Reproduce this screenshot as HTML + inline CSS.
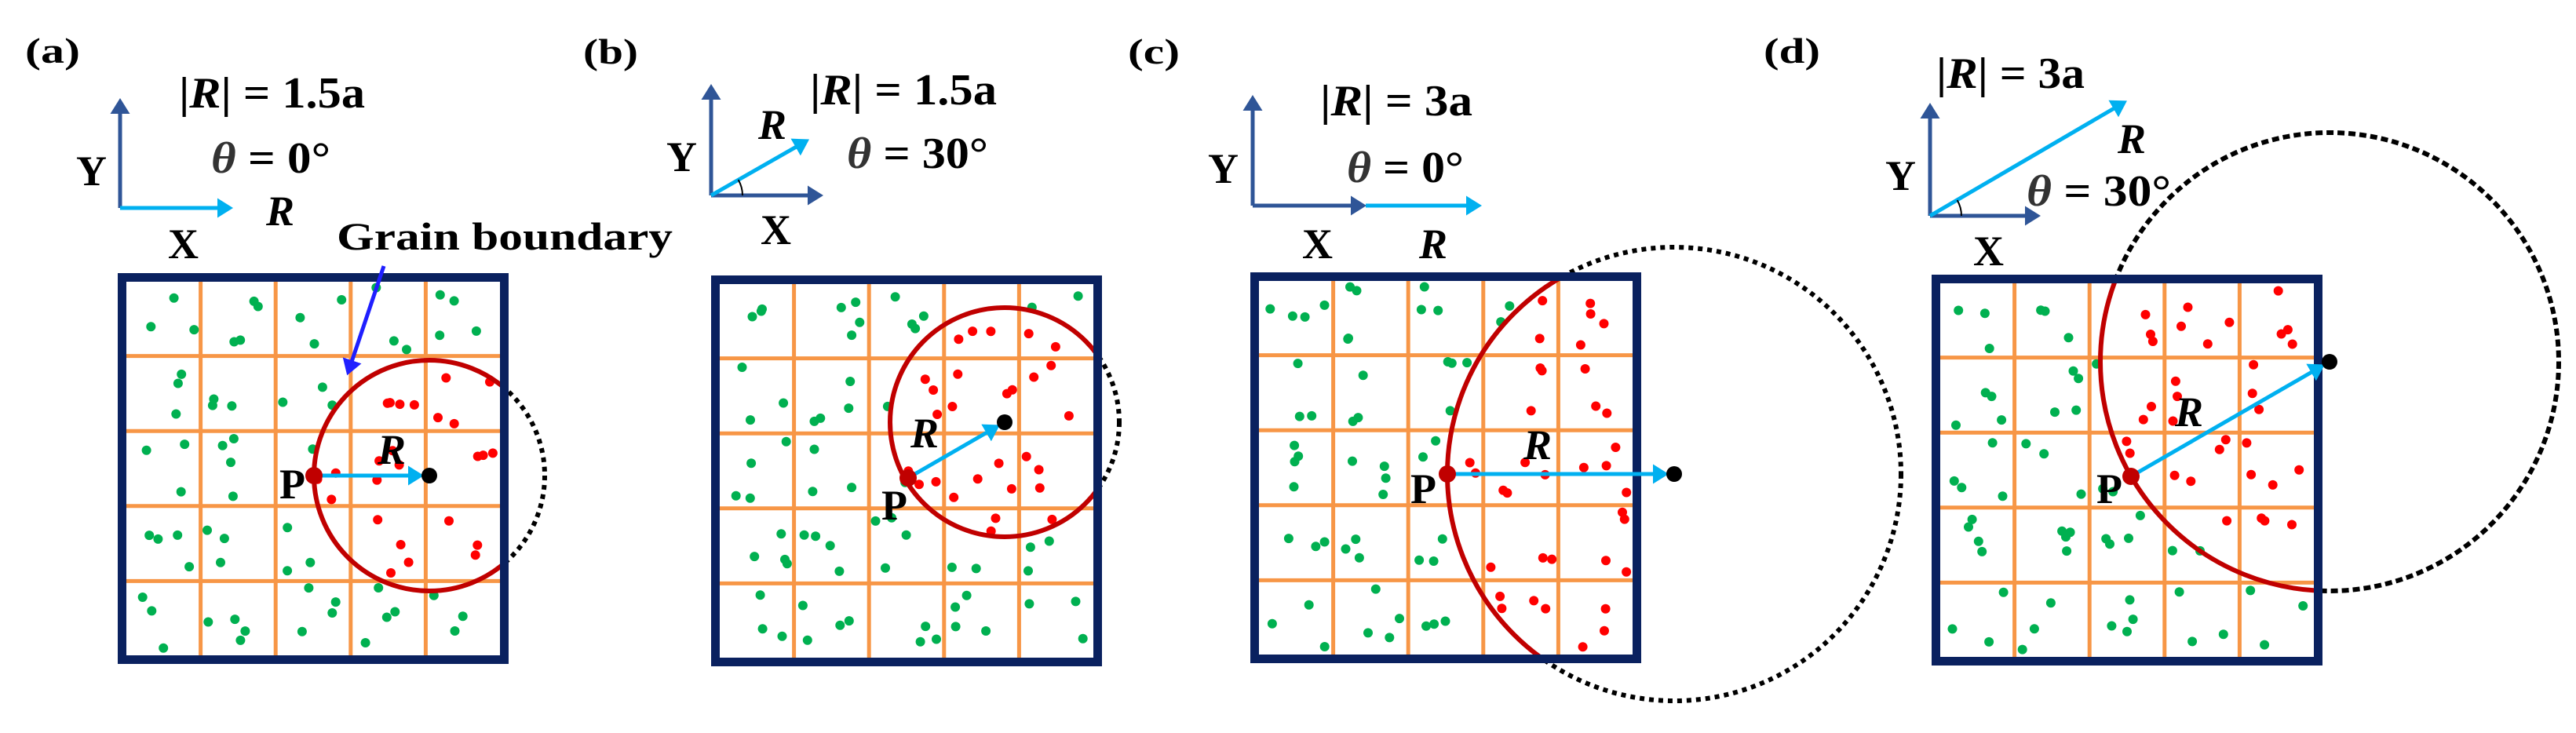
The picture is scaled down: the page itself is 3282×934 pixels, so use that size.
<!DOCTYPE html>
<html><head><meta charset="utf-8"><style>
html,body{margin:0;padding:0;background:#fff;}
svg{display:block;}
text{font-family:"Liberation Serif","Times New Roman",serif;font-weight:bold;fill:#000;}
.it{font-style:italic;}
</style></head><body>
<div style="position:relative;width:3282px;height:934px">
<svg id="s" width="3282" height="934" viewBox="0 0 3282 934" xmlns="http://www.w3.org/2000/svg" style="position:absolute;left:0;top:0">
<defs>
<marker id="mD" markerWidth="5" markerHeight="5" refX="1" refY="2.5" orient="auto" markerUnits="strokeWidth"><path d="M0,0 L4,2.5 L0,5 z" fill="#2f5597"/></marker>
<marker id="mC" markerWidth="5" markerHeight="5" refX="1" refY="2.5" orient="auto" markerUnits="strokeWidth"><path d="M0,0 L4,2.5 L0,5 z" fill="#00b0f0"/></marker>
<marker id="mB" markerWidth="5" markerHeight="5" refX="1" refY="2.5" orient="auto" markerUnits="strokeWidth"><path d="M0,0 L4,2.5 L0,5 z" fill="#1f1fff"/></marker>
</defs>
<g id="panels"></g>

<g stroke-width="5" fill="none">
<line x1="153" y1="265" x2="153" y2="140" stroke="#2f5597" marker-end="url(#mD)"/>
<line x1="153" y1="265" x2="282" y2="265" stroke="#00b0f0" marker-end="url(#mC)"/>

<line x1="906" y1="249" x2="906" y2="122" stroke="#2f5597" marker-end="url(#mD)"/>
<line x1="906" y1="249" x2="1034" y2="249" stroke="#2f5597" marker-end="url(#mD)"/>
<line x1="906" y1="249" x2="1018" y2="185" stroke="#00b0f0" marker-end="url(#mC)"/>
<path d="M946,249 A40,40 0 0 0 940.6,229" stroke="#000" stroke-width="2"/>

<line x1="1596" y1="262" x2="1596" y2="136" stroke="#2f5597" marker-end="url(#mD)"/>
<line x1="1596" y1="262" x2="1726" y2="262" stroke="#2f5597" marker-end="url(#mD)"/>
<line x1="1740" y1="262" x2="1873" y2="262" stroke="#00b0f0" marker-end="url(#mC)"/>

<line x1="2459" y1="275" x2="2459" y2="146" stroke="#2f5597" marker-end="url(#mD)"/>
<line x1="2459" y1="275" x2="2585" y2="275" stroke="#2f5597" marker-end="url(#mD)"/>
<line x1="2459" y1="275" x2="2697" y2="136" stroke="#00b0f0" marker-end="url(#mC)"/>
<path d="M2499,275 A40,40 0 0 0 2493.6,255" stroke="#000" stroke-width="2"/>

<line x1="489" y1="339" x2="447" y2="464" stroke="#1f1fff" stroke-width="5" marker-end="url(#mB)"/>
</g>

<text x="32" y="80" font-size="46" textLength="70" lengthAdjust="spacingAndGlyphs">(a)</text>
<text x="743" y="81" font-size="46" textLength="70" lengthAdjust="spacingAndGlyphs">(b)</text>
<text x="1437" y="81" font-size="46" textLength="66" lengthAdjust="spacingAndGlyphs">(c)</text>
<text x="2247" y="80" font-size="46" textLength="72" lengthAdjust="spacingAndGlyphs">(d)</text>

<text x="228" y="137" font-size="56" textLength="237" lengthAdjust="spacingAndGlyphs">|<tspan class="it">R</tspan>| = 1.5a</text>
<text x="269" y="220" font-size="56" textLength="152" lengthAdjust="spacingAndGlyphs"><tspan class="it" fill="#333">θ</tspan> = 0°</text>
<text x="1032" y="133" font-size="56" textLength="238" lengthAdjust="spacingAndGlyphs">|<tspan class="it">R</tspan>| = 1.5a</text>
<text x="1079" y="214" font-size="56" textLength="180" lengthAdjust="spacingAndGlyphs"><tspan class="it" fill="#333">θ</tspan> = 30°</text>
<text x="1682" y="147" font-size="56" textLength="194" lengthAdjust="spacingAndGlyphs">|<tspan class="it">R</tspan>| = 3a</text>
<text x="1716" y="232" font-size="56" textLength="149" lengthAdjust="spacingAndGlyphs"><tspan class="it" fill="#333">θ</tspan> = 0°</text>
<text x="2467" y="112" font-size="56" textLength="189" lengthAdjust="spacingAndGlyphs">|<tspan class="it">R</tspan>| = 3a</text>
<text x="2582" y="262" font-size="56" textLength="184" lengthAdjust="spacingAndGlyphs"><tspan class="it" fill="#333">θ</tspan> = 30°</text>

<g font-size="54">
<text x="97" y="236">Y</text><text x="849" y="218">Y</text><text x="1539" y="233">Y</text><text x="2402" y="242">Y</text>
<text x="214" y="329">X</text><text x="969" y="311">X</text><text x="1659" y="329">X</text><text x="2514" y="338">X</text>
<text class="it" x="339" y="287">R</text><text class="it" x="966" y="177">R</text><text class="it" x="1808" y="329">R</text><text class="it" x="2698" y="195">R</text>
</g>
<text x="429" y="318" font-size="50" textLength="428" lengthAdjust="spacingAndGlyphs">Grain boundary</text>
<g id="top"></g>
<g font-size="54">
<text class="it" x="481" y="591">R</text>
<text class="it" x="1160" y="570">R</text>
<text class="it" x="1941" y="585">R</text>
<text class="it" x="2771" y="543">R</text>
<text x="356" y="635">P</text>
<text x="1123" y="662">P</text>
<text x="1797" y="641">P</text>
<text x="2671" y="641">P</text>
</g>
</svg>
</div>
<script>
(function(){
var NS="http://www.w3.org/2000/svg";
var svg=document.getElementById('s');
var g=document.getElementById('panels');
var top=document.getElementById('top');
var defs=svg.querySelector('defs');
function el(n,a,p){var e=document.createElementNS(NS,n);for(var k in a)e.setAttribute(k,a[k]);(p||g).appendChild(e);return e;}
var seed=12345;function rnd(){seed=(seed*1103515245+12345)%2147483648;return seed/2147483648;}
var P=[
 {x:150,y:348,px:400,py:606,cx:547,cy:606,r:147,dash:"6 6"},
 {x:906,y:351,px:1157,py:609,cx:1280,cy:538,r:146,dash:"6 6"},
 {x:1593,y:347,px:1844,py:604,cx:2133,cy:604,r:289,dash:"6 6"},
 {x:2461,y:350,px:2715,py:607,cx:2968,cy:461,r:292,dash:"9 5"}
];
P.forEach(function(p,i){
 var W=498,ix=p.x+10,iy=p.y+10,iw=W-20,cw=iw/5;
 el('rect',{x:p.x,y:p.y,width:W,height:W,fill:'#fff'});
 var cp=el('clipPath',{id:'ci'+i},defs);el('rect',{x:ix,y:iy,width:iw,height:iw},cp);
 var mk=el('mask',{id:'mo'+i},defs);el('rect',{x:0,y:0,width:3282,height:934,fill:'#fff'},mk);el('rect',{x:p.x,y:p.y,width:W,height:W,fill:'#000'},mk);
 for(var k=1;k<5;k++){
  el('line',{x1:ix+k*cw,y1:iy,x2:ix+k*cw,y2:iy+iw,stroke:'#f79646','stroke-width':5});
  el('line',{x1:ix,y1:iy+k*cw,x2:ix+iw,y2:iy+k*cw,stroke:'#f79646','stroke-width':5});
 }
 for(var a=0;a<5;a++)for(var b=0;b<5;b++){
  var n=3+(rnd()<0.5?1:0);
  for(var m=0;m<n;m++){
   var dx=ix+a*cw+8+rnd()*(cw-16),dy=iy+b*cw+8+rnd()*(cw-16);
   var ins=Math.hypot(dx-p.cx,dy-p.cy)<p.r;
   el('circle',{cx:dx.toFixed(1),cy:dy.toFixed(1),r:6,fill:ins?'#ff0000':'#00b050'});
  }
 }
 el('circle',{cx:p.cx,cy:p.cy,r:p.r,fill:'none',stroke:'#c00000','stroke-width':6,'clip-path':'url(#ci'+i+')'});
 el('rect',{x:p.x+5.5,y:p.y+5.5,width:W-11,height:W-11,fill:'none',stroke:'#0a215f','stroke-width':11});
 el('circle',{cx:p.cx,cy:p.cy,r:p.r,fill:'none',stroke:'#000','stroke-width':6,'stroke-dasharray':p.dash,mask:'url(#mo'+i+')'});
 var ang=Math.atan2(p.cy-p.py,p.cx-p.px),L=Math.hypot(p.cx-p.px,p.cy-p.py)-22;
 el('line',{x1:p.px,y1:p.py,x2:(p.px+L*Math.cos(ang)).toFixed(1),y2:(p.py+L*Math.sin(ang)).toFixed(1),stroke:'#00b0f0','stroke-width':5,'marker-end':'url(#mC)'},top);
 el('circle',{cx:p.px,cy:p.py,r:11,fill:'#c00000'},top);
 el('circle',{cx:p.cx,cy:p.cy,r:10,fill:'#000'},top);
});
})();
</script>
</body></html>
